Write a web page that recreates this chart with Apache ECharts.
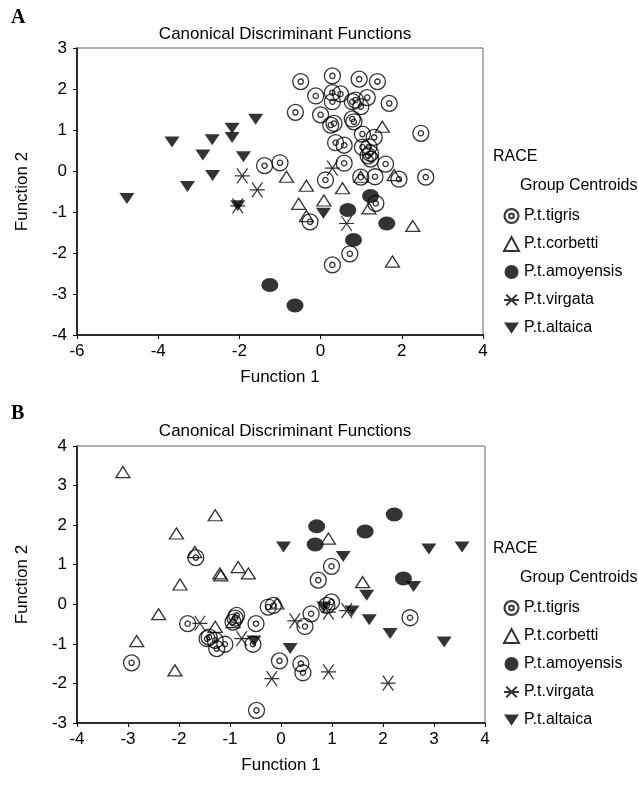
<!DOCTYPE html>
<html>
<head>
<meta charset="utf-8">
<script src="https://cdn.jsdelivr.net/npm/echarts@6/dist/echarts.min.js"></script>
<style>
  html, body { margin: 0; padding: 0; background: #fff; }
  #chart { width: 638px; height: 789px; }
</style>
</head>
<body>
<div id="chart"></div>
<script>
'use strict';

// 组名
const groups = ['P.t.tigris', 'P.t.corbetti', 'P.t.amoyensis', 'P.t.virgata', 'P.t.altaica'];

// Panel A: [Function 1, Function 2]
const tigrisA = [[0.29, 2.32], [-0.49, 2.18], [0.95, 2.24], [1.4, 2.18], [-0.12, 1.83], [0.29, 1.91], [0.49, 1.88],
    [0.29, 1.69], [0.78, 1.69], [1.15, 1.79], [0.99, 1.57], [1.69, 1.65], [-0.62, 1.43], [0, 1.37], [0.78, 1.27],
    [0.82, 1.2], [0.25, 1.12], [1.03, 0.9], [1.32, 0.82], [0.37, 0.69], [0.58, 0.63], [1.03, 0.58], [1.19, 0.59],
    [1.23, 0.43], [1.17, 0.37], [1.23, 0.29], [1.6, 0.17], [0.58, 0.19], [-1.0, 0.2], [-1.38, 0.13], [0.12, -0.22],
    [0.99, -0.15], [1.34, -0.14], [1.93, -0.2], [2.47, 0.92], [2.59, -0.15], [-0.26, -1.24], [1.36, -0.79],
    [0.72, -2.02], [0.29, -2.29], [0.86, 1.73], [0.33, 1.16]];
const corbettiA = [[1.52, 1.08], [-0.84, -0.14], [-0.35, -0.36], [0.54, -0.42], [0.99, -0.14], [1.81, -0.1],
    [-0.54, -0.8], [0.08, -0.72], [-0.35, -1.1], [1.19, -0.91], [1.77, -2.21], [2.27, -1.34]];
const amoyensisA = [[1.23, -0.61], [0.67, -0.95], [1.63, -1.28], [0.81, -1.68], [-1.25, -2.78], [-0.63, -3.28]];
const virgataA = [[-1.93, -0.12], [-1.56, -0.46], [0.29, 0.07], [0.64, -1.28], [-2.04, -0.85]];
const altaicaA = [[-4.77, -0.67], [-3.66, 0.71], [-3.28, -0.38], [-2.9, 0.39], [-2.67, 0.76], [-2.66, -0.11],
    [-2.18, 1.04], [-2.18, 0.82], [-1.9, 0.35], [-1.6, 1.26], [-2.04, -0.85], [0.07, -1.03]];

// Panel B
const tigrisB = [[-1.67, 1.18], [0.99, 0.96], [0.73, 0.61], [-2.93, -1.48], [-1.83, -0.49], [-1.41, -0.83],
    [-1.29, -0.91], [-1.26, -1.12], [-1.1, -1.01], [-1.45, -0.87], [-0.87, -0.28], [-0.94, -0.45], [-0.49, -0.49],
    [-0.25, -0.07], [-0.15, -0.03], [-0.55, -1.01], [0.59, -0.24], [0.47, -0.56], [0.99, 0.06], [0.9, -0.03],
    [-0.03, -1.43], [0.39, -1.5], [0.43, -1.73], [-0.48, -2.68], [2.53, -0.34], [-0.9, -0.35]];
const corbettiB = [[-3.1, 3.34], [-1.29, 2.25], [-2.05, 1.79], [-1.69, 1.32], [-1.2, 0.78], [-1.18, 0.73],
    [-0.84, 0.94], [-0.64, 0.78], [-1.98, 0.5], [0.93, 1.66], [1.6, 0.56], [-2.4, -0.25], [-2.83, -0.93],
    [-2.08, -1.67], [-1.29, -0.57], [-0.94, -0.45], [-0.08, 0.02]];
const amoyensisB = [[0.7, 1.97], [1.65, 1.84], [2.22, 2.27], [0.67, 1.51], [2.4, 0.65]];
const virgataB = [[-1.59, -0.48], [-0.77, -0.87], [0.27, -0.42], [0.93, -0.2], [1.29, -0.16], [-0.18, -1.88],
    [0.93, -1.71], [2.1, -1.99]];
const altaicaB = [[0.05, 1.45], [1.22, 1.21], [1.68, 0.23], [0.84, -0.07], [1.39, -0.17], [1.73, -0.39],
    [2.14, -0.74], [0.18, -1.12], [-0.53, -0.93], [2.9, 1.4], [3.55, 1.45], [2.6, 0.45], [3.2, -0.95]];

// 坐标轴范围
const axisA = { xMin: -6, xMax: 4, xStep: 2, yMin: -4, yMax: 3, yStep: 1 };
const axisB = { xMin: -4, xMax: 4, xStep: 1, yMin: -3, yMax: 4, yStep: 1 };

const FONT = 'Liberation Sans, Arial, sans-serif';
const INK = '#000';

// 符号
const SYM_TIGRIS = 'path://M0,-10A10,10 0 1,1 0,10A10,10 0 1,1 0,-10ZM0,-3.3A3.3,3.3 0 1,1 0,3.3A3.3,3.3 0 1,1 0,-3.3Z';
const SYM_STAR = 'path://M-10,0L10,0M-7,-7L7,7M-7,7L7,-7';
const SYM_DOWN = 'path://M0,0L10,0L5,7.5Z';

const styles = {
    'P.t.tigris': { symbol: SYM_TIGRIS, size: 16, itemStyle: { color: 'rgba(0,0,0,0)', borderColor: INK, borderWidth: 1.3 } },
    'P.t.corbetti': { symbol: 'triangle', size: [14, 11], itemStyle: { color: 'rgba(0,0,0,0)', borderColor: INK, borderWidth: 1.3 } },
    'P.t.amoyensis': { symbol: 'circle', size: [17, 14], itemStyle: { color: INK, borderWidth: 0 } },
    'P.t.virgata': { symbol: SYM_STAR, size: 15, itemStyle: { color: 'rgba(0,0,0,0)', borderColor: INK, borderWidth: 1.2 } },
    'P.t.altaica': { symbol: SYM_DOWN, size: [15, 11], itemStyle: { color: INK, borderWidth: 0 } }
};

function makeSeries(name, data, idx) {
    const s = styles[name];
    return {
        name: name,
        type: 'scatter',
        xAxisIndex: idx,
        yAxisIndex: idx,
        data: data,
        symbol: s.symbol,
        symbolSize: s.size,
        itemStyle: s.itemStyle,
        emphasis: { disabled: true },
        silent: true,
        animation: false
    };
}

function xAxisOf(ax, idx) {
    return {
        type: 'value', gridIndex: idx, min: ax.xMin, max: ax.xMax, interval: ax.xStep,
        name: 'Function 1', nameLocation: 'middle', nameGap: 34,
        nameTextStyle: { fontFamily: FONT, fontSize: 17, color: INK },
        axisLine: { show: true, onZero: false, lineStyle: { color: INK, width: 1.5 } },
        axisTick: { show: true, length: 4, lineStyle: { color: INK } },
        axisLabel: { fontFamily: FONT, fontSize: 17, color: INK, margin: 8 },
        splitLine: { show: false }
    };
}

function yAxisOf(ax, idx) {
    return {
        type: 'value', gridIndex: idx, min: ax.yMin, max: ax.yMax, interval: ax.yStep,
        name: 'Function 2', nameLocation: 'middle', nameGap: 46,
        nameTextStyle: { fontFamily: FONT, fontSize: 17, color: INK },
        axisLine: { show: true, onZero: false, lineStyle: { color: INK, width: 1.5 } },
        axisTick: { show: true, length: 4, lineStyle: { color: INK } },
        axisLabel: { fontFamily: FONT, fontSize: 17, color: INK, margin: 10 },
        splitLine: { show: false }
    };
}

function legendOf(top) {
    return {
        orient: 'vertical', left: 498, top: top,
        itemWidth: 15, itemHeight: 14, itemGap: 12,
        selectedMode: false,
        textStyle: { fontFamily: FONT, fontSize: 16, color: INK },
        data: groups.map(g => ({ name: g, icon: styles[g].symbol }))
    };
}

function textEl(x, y, text, opts) {
    return {
        type: 'text', x: x, y: y, silent: true,
        style: Object.assign({ text: text, fontFamily: FONT, fontSize: 16, fill: INK }, opts || {})
    };
}

const chart = echarts.init(document.getElementById('chart'), null, { renderer: 'canvas' });

const option = {
    animation: false,
    backgroundColor: '#fff',
    title: [
        { text: 'Canonical Discriminant Functions', left: 280, top: 21, textAlign: 'center',
          textStyle: { fontFamily: FONT, fontSize: 17, fontWeight: 'normal', color: INK } },
        { text: 'Canonical Discriminant Functions', left: 280, top: 418, textAlign: 'center',
          textStyle: { fontFamily: FONT, fontSize: 17, fontWeight: 'normal', color: INK } }
    ],
    grid: [
        { left: 77, top: 48, width: 406, height: 287, show: true, borderColor: '#666', borderWidth: 1 },
        { left: 77, top: 446, width: 408, height: 277, show: true, borderColor: '#666', borderWidth: 1 }
    ],
    xAxis: [xAxisOf(axisA, 0), xAxisOf(axisB, 1)],
    yAxis: [yAxisOf(axisA, 0), yAxisOf(axisB, 1)],
    legend: [legendOf(203), legendOf(595)],
    graphic: [
        textEl(11, 8, 'A', { fontFamily: 'Liberation Serif, serif', fontSize: 20, fontWeight: 'bold' }),
        textEl(11, 404, 'B', { fontFamily: 'Liberation Serif, serif', fontSize: 20, fontWeight: 'bold' }),
        textEl(493, 149, 'RACE'),
        textEl(520, 178, 'Group Centroids'),
        textEl(493, 541, 'RACE'),
        textEl(520, 570, 'Group Centroids')
    ],
    series: [
        makeSeries('P.t.tigris', tigrisA, 0),
        makeSeries('P.t.corbetti', corbettiA, 0),
        makeSeries('P.t.amoyensis', amoyensisA, 0),
        makeSeries('P.t.virgata', virgataA, 0),
        makeSeries('P.t.altaica', altaicaA, 0),
        makeSeries('P.t.tigris', tigrisB, 1),
        makeSeries('P.t.corbetti', corbettiB, 1),
        makeSeries('P.t.amoyensis', amoyensisB, 1),
        makeSeries('P.t.virgata', virgataB, 1),
        makeSeries('P.t.altaica', altaicaB, 1)
    ]
};

chart.setOption(option);
</script>
</body>
</html>
